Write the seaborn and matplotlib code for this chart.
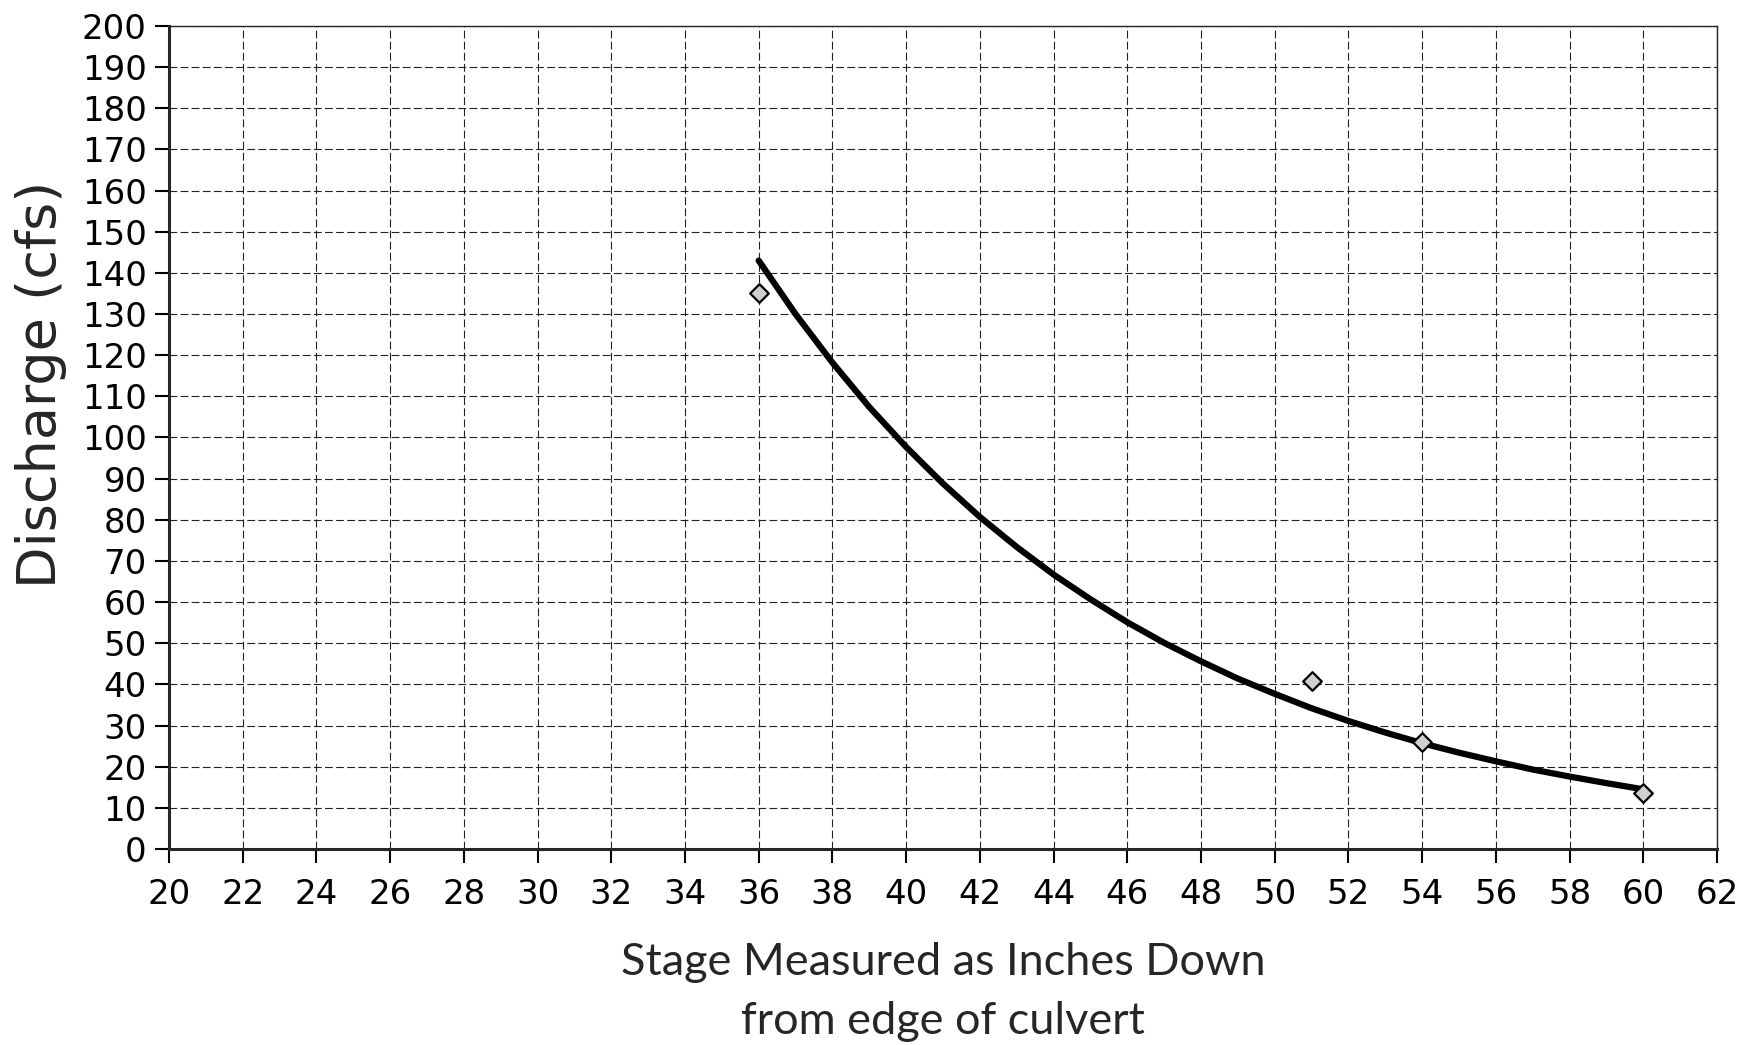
import matplotlib
matplotlib.use("Agg")
import matplotlib.pyplot as plt
import numpy as np
import pandas as pd
import seaborn as sns

# measured stage / discharge points
stage_in = [36, 51, 54, 60]
discharge_cfs = [135.2, 40.8, 26.1, 13.6]

# trendline, one inch apart
trend_stage = [36, 37, 38, 39, 40, 41, 42, 43, 44, 45, 46, 47, 48,
               49, 50, 51, 52, 53, 54, 55, 56, 57, 58, 59, 60]
trend_cfs = [143.0, 130.0, 118.2, 107.4, 97.7, 88.8, 80.7, 73.4, 66.7,
             60.7, 55.1, 50.1, 45.6, 41.4, 37.7, 34.2, 31.1, 28.3, 25.7,
             23.4, 21.3, 19.3, 17.6, 16.0, 14.5]

x_ticks = list(range(20, 63, 2))
y_ticks = list(range(0, 201, 10))

sns.set_style("ticks")
plt.rcParams['font.family'] = ['DejaVu Sans']

points = pd.DataFrame({"stage": stage_in, "q": discharge_cfs})
trend = pd.DataFrame({"stage": trend_stage, "q": trend_cfs})

fig = plt.figure(figsize=(17.56, 10.45), dpi=100)
ax = fig.add_axes([0.0962, 0.1876, 0.8816, 0.7875])

sns.lineplot(data=trend, x="stage", y="q", ax=ax, color="black",
             linewidth=4.5, zorder=3)
sns.scatterplot(data=points, x="stage", y="q", ax=ax, marker="D", s=90,
                color="#cfcfcf", edgecolor="black", linewidth=1.6, zorder=4)

ax.set_xlim(20, 62)
ax.set_ylim(0, 200)
ax.set_xticks(x_ticks)
ax.set_yticks(y_ticks)
ax.grid(True, color="#222222", linestyle=(0, (7, 3)), linewidth=0.8)
ax.set_axisbelow(True)

for side in ["left", "bottom"]:
    ax.spines[side].set_linewidth(2.2)
for side in ["top", "right"]:
    ax.spines[side].set_visible(True)
    ax.spines[side].set_linewidth(1.0)

ax.tick_params(axis="both", direction="out", length=10, width=1.5,
               labelsize=24.5, colors="black")
ax.tick_params(axis="x", pad=11)
ax.tick_params(axis="y", pad=6)

ax.set_xlabel("Stage Measured as Inches Down\nfrom edge of culvert",
              fontsize=32.5, labelpad=22, linespacing=1.55, family="Lato")
ax.set_ylabel("Discharge (cfs)", fontsize=39)
ax.yaxis.set_label_coords(-0.066, 0.565)

fig.savefig("out.png", dpi=100)
